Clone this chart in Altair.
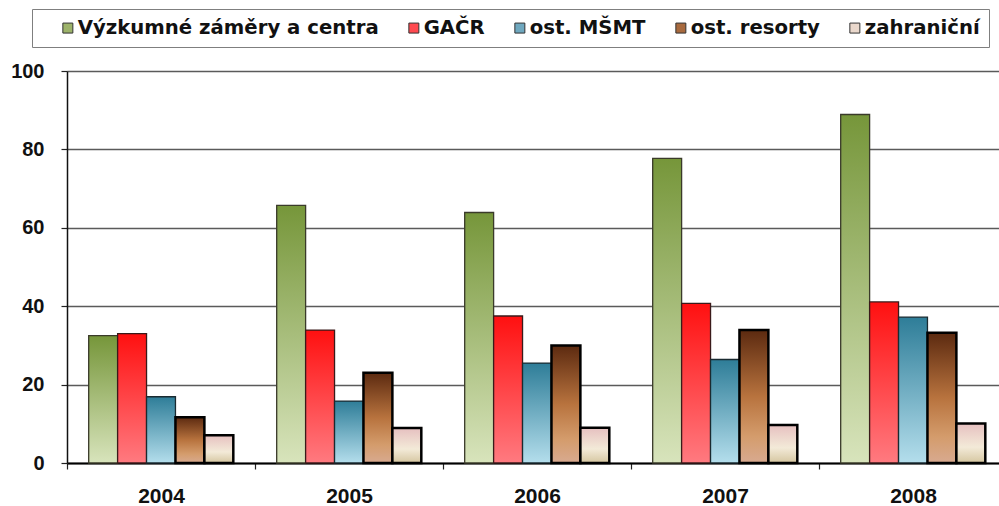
import altair as alt
import pandas as pd

# Funding sources by year (values in the chart's units)
years = ["2004", "2005", "2006", "2007", "2008"]
series = ["Výzkumné záměry a centra", "GAČR", "ost. MŠMT", "ost. resorty", "zahraniční"]
vyzkumne = [32.5, 65.7, 63.9, 77.7, 88.9]
gacr = [33.0, 33.9, 37.5, 40.7, 41.1]
ost_msmt = [16.9, 15.8, 25.5, 26.4, 37.2]
ost_resorty = [11.7, 23.0, 30.0, 33.9, 33.2]
zahranicni = [7.1, 8.9, 9.0, 9.7, 10.1]
y_ticks = [0, 20, 40, 60, 80, 100]

# Legend swatch colours and the vertical gradients used for the bars
legend_colors = ["#9db36a", "#ff4a50", "#6fa8bf", "#a86a3e", "#ead8cc"]
gradients = [
    [(0.0, "#76963a"), (1.0, "#d8e4bc")],
    [(0.0, "#ff1010"), (1.0, "#ff7a80")],
    [(0.0, "#2e7d98"), (1.0, "#b4deec")],
    [(0.0, "#5c2a10"), (0.5, "#b8733e"), (0.8, "#d49c6c"), (1.0, "#d8aa90")],
    [(0.0, "#e6c0c0"), (0.6, "#f3ead8"), (1.0, "#d5c6a0")],
]
outlines = [("#3a3a2a", 1.3), ("#3a1a1a", 1.3), ("#1a2a30", 1.3), ("#000000", 2.5), ("#000000", 2.5)]

rows = []
for name, vals in zip(series, [vyzkumne, gacr, ost_msmt, ost_resorty, zahranicni]):
    for yr, v in zip(years, vals):
        rows.append({"rok": yr, "zdroj": name, "hodnota": v})
df = pd.DataFrame(rows)

FONT = "Liberation Sans"
LEGEND_FONT = "DejaVu Sans"

x_enc = alt.X(
    "rok:N",
    sort=years,
    scale=alt.Scale(range=[0, 940], paddingInner=0, paddingOuter=0),
    axis=alt.Axis(
        title=None, labelAngle=0, tickBand="extent", tickSize=6, tickColor="#222",
        tickWidth=1.2, domainColor="#000", domainWidth=2, labelPadding=16,
        labelFont=FONT, labelFontWeight="bold", labelFontSize=21, labelColor="#111",
        grid=False,
    ),
)
xoff_enc = alt.XOffset(
    "zdroj:N",
    sort=series,
    scale=alt.Scale(domain=series, paddingInner=0, paddingOuter=0.75),
)
y_enc = alt.Y(
    "hodnota:Q",
    scale=alt.Scale(domain=[0, 100], nice=False),
    axis=alt.Axis(
        title=None, values=y_ticks, tickSize=6, tickColor="#222", tickWidth=1.2,
        domainColor="#111", domainWidth=1.5, labelPadding=17,
        labelFont=FONT, labelFontWeight="bold", labelFontSize=20, labelColor="#111",
        grid=True, gridColor="#5a5a5a", gridWidth=1.3,
    ),
)

base = alt.Chart(df).mark_bar().encode(
    x=x_enc,
    xOffset=xoff_enc,
    y=y_enc,
    color=alt.Color(
        "zdroj:N",
        scale=alt.Scale(domain=series, range=legend_colors),
        legend=alt.Legend(
            orient="none", legendX=-35, legendY=-62, direction="horizontal",
            title=" ", titleOrient="left", titlePadding=17, titleFontSize=1,
            padding=9, strokeColor="#7f7f7f",
            labelFont=LEGEND_FONT, labelFontWeight="bold", labelFontSize=19.7,
            labelColor="#111", labelLimit=0, labelOffset=0,
            symbolType="square", symbolSize=100, symbolStrokeColor="#333",
            symbolStrokeWidth=1, symbolOpacity=1, columnPadding=25,
        ),
    ),
)

layers = [base]
for name, stops, (stroke, sw) in zip(series, gradients, outlines):
    grad = alt.Gradient(
        gradient="linear",
        stops=[alt.GradientStop(offset=o, color=c) for o, c in stops],
        x1=0, x2=0, y1=0, y2=1,
    )
    layers.append(
        alt.Chart(df)
        .transform_filter(alt.datum.zdroj == name)
        .mark_bar(fill=grad, stroke=stroke, strokeWidth=sw)
        .encode(x=x_enc, xOffset=xoff_enc, y=y_enc)
    )

chart = (
    alt.layer(*layers)
    .properties(
        width=932,
        height=392,
        autosize=alt.AutoSizeParams(type="none"),
        padding={"left": 67, "top": 71, "right": 0, "bottom": 43},
        background="white",
    )
    .configure_view(stroke=None)
)

chart.save("out.html", embed_options={"renderer": "svg", "actions": False})
